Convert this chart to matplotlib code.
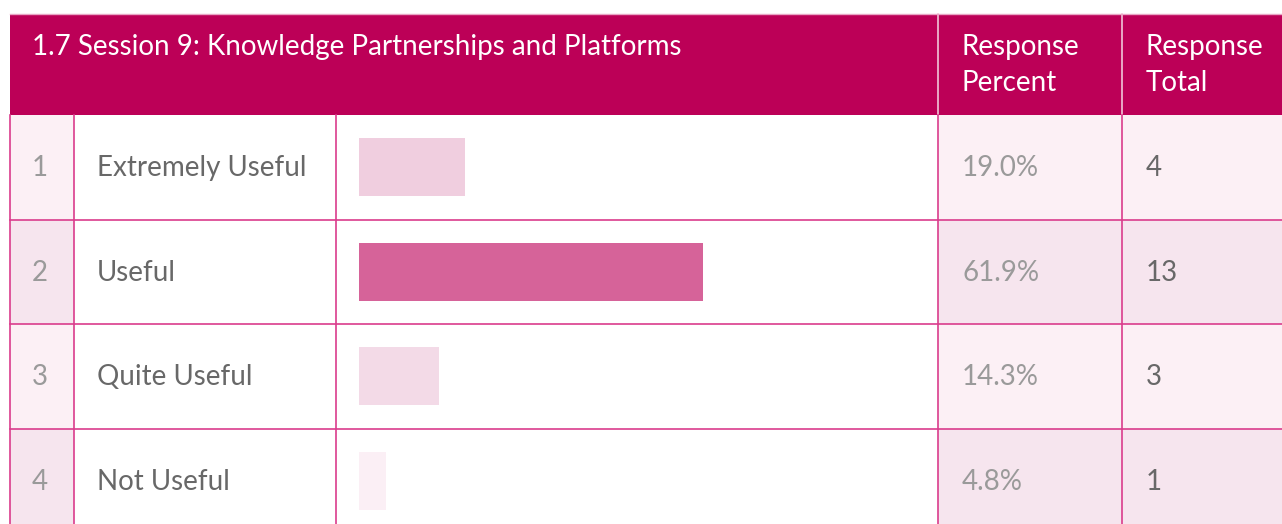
import matplotlib.pyplot as plt
from matplotlib.patches import Rectangle

# --- data -------------------------------------------------------------
title = "1.7 Session 9: Knowledge Partnerships and Platforms"
col_heads = ["Response\nPercent", "Response\nTotal"]
row_ids = ["1", "2", "3", "4"]
answers = ["Extremely Useful", "Useful", "Quite Useful", "Not Useful"]
percents = [19.0, 61.9, 14.3, 4.8]
totals = [4, 13, 3, 1]

# --- style ------------------------------------------------------------
MAGENTA = "#BC0057"
GRID = "#DA3C8C"
LIGHT = "#FCF0F5"
DARKER = "#F6E5EE"
bar_colors = ["#F0CEDF", "#D66399", "#F3DAE7", "#FBEFF5"]
FS = 20

plt.rcParams['font.family'] = ['Lato', 'DejaVu Sans']

W, H = 1282, 524
fig = plt.figure(figsize=(W / 100, H / 100), dpi=100)
ax = fig.add_axes([0, 0, 1, 1])
ax.set_xlim(0, W)
ax.set_ylim(H, 0)
ax.axis('off')

# column edges and row geometry (pixels)
x0, x1, x2, x3, x4, x5 = 10, 74, 336, 938, 1122, 1290
head_top, head_bot = 14, 115
row_h = 104.5
bar_left, bar_scale = 359, 5.56

# header
ax.add_patch(Rectangle((x0, head_top), x5 - x0, head_bot - head_top,
                       facecolor=MAGENTA, edgecolor='none'))
for xv in (x3, x4):
    ax.plot([xv, xv], [head_top, head_bot], color="#F0C6D8", lw=1.2)
ax.plot([x0, x5], [head_top, head_top], color="#E9A5C4", lw=1)
ax.text(32, 47, title, color='white', fontsize=FS, va='center', ha='left')
ax.text(962, 65, col_heads[0], color='white', fontsize=FS, va='center',
        ha='left', linespacing=1.5)
ax.text(1146, 65, col_heads[1], color='white', fontsize=FS, va='center',
        ha='left', linespacing=1.5)

# body rows
for i, (rid, ans, pct, tot) in enumerate(zip(row_ids, answers, percents, totals)):
    top = head_bot + i * row_h
    cy = top + row_h / 2 + 1
    shade = LIGHT if i % 2 == 0 else DARKER
    ax.add_patch(Rectangle((x0, top), x1 - x0, row_h, facecolor=shade, edgecolor='none'))
    ax.add_patch(Rectangle((x3, top), x5 - x3, row_h, facecolor=shade, edgecolor='none'))
    ax.text(32, cy, rid, color="#9A9A9A", fontsize=FS, va='center', ha='left')
    ax.text(97, cy, ans, color="#686868", fontsize=FS, va='center', ha='left')
    ax.text(962, cy, f"{pct:.1f}%", color="#9A9A9A", fontsize=FS,
            va='center', ha='left')
    ax.text(1146, cy, str(tot), color="#686868", fontsize=FS, va='center', ha='left')

centers = [head_bot + i * row_h + row_h / 2 for i in range(len(percents))]
ax.barh(centers, [p * bar_scale for p in percents], left=bar_left, height=58,
        color=bar_colors, edgecolor='none', zorder=3)

# grid lines
for i in range(1, len(percents)):
    yv = head_bot + i * row_h
    ax.plot([x0, x5], [yv, yv], color=GRID, lw=1.2, zorder=4)
for xv in (x0, x1, x2, x3, x4):
    ax.plot([xv, xv], [head_bot, H], color=GRID, lw=1.2, zorder=4)

fig.savefig("out.png", dpi=100)
